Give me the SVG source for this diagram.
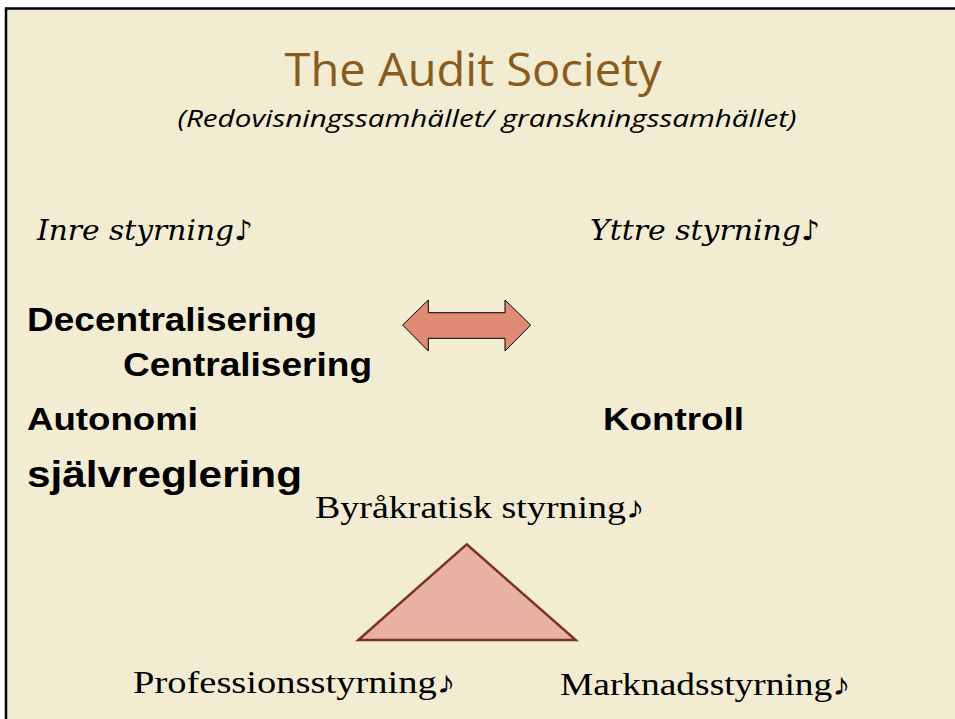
<svg xmlns="http://www.w3.org/2000/svg" width="955" height="719" viewBox="0 0 955 719">
<style>
.title{font-family:"Open Sans","Noto Sans",sans-serif;fill:#8B5A1E;font-size:46px}
.sub{font-family:"Open Sans","Noto Sans",sans-serif;font-style:italic;fill:#000;font-size:24px}
.it{font-family:"DejaVu Serif","Liberation Serif",serif;font-style:italic;fill:#000;font-size:28px}
.b{font-family:"Liberation Sans",Arial,sans-serif;font-weight:bold;fill:#000;font-size:34px}
.m{font-family:"Liberation Serif","DejaVu Serif",serif;fill:#000;font-size:31px}
</style>
<rect x="0" y="0" width="955" height="719" fill="#fff"/>
<rect x="5" y="8" width="950" height="711" fill="#F1ECD2"/>
<path d="M6 719 V8.5 H955" fill="none" stroke="#000" stroke-width="2.5"/>
<g id="title"><text class="title" x="473" y="86" text-anchor="middle" textLength="377" lengthAdjust="spacingAndGlyphs">The Audit Society</text></g>
<g id="subtitle"><text class="sub" x="487" y="127" text-anchor="middle" textLength="619" lengthAdjust="spacingAndGlyphs">(Redovisningssamhället/ granskningssamhället)</text></g>
<g id="inre"><text class="it" x="37" y="240" textLength="216" lengthAdjust="spacingAndGlyphs">Inre styrning♪</text></g>
<g id="yttre"><text class="it" x="590" y="240" textLength="230" lengthAdjust="spacingAndGlyphs">Yttre styrning♪</text></g>
<g id="decentralisering"><text class="b" x="27" y="331" textLength="290" lengthAdjust="spacingAndGlyphs">Decentralisering</text></g>
<g id="centralisering"><text class="b" x="123" y="376" textLength="249" lengthAdjust="spacingAndGlyphs">Centralisering</text></g>
<g id="autonomi"><text class="b" x="27" y="430" style="font-size:32px" textLength="171" lengthAdjust="spacingAndGlyphs">Autonomi</text></g>
<g id="kontroll"><text class="b" x="603" y="430" style="font-size:32px" textLength="141" lengthAdjust="spacingAndGlyphs">Kontroll</text></g>
<g id="sjalvreglering"><text class="b" x="27" y="487" style="font-size:37px" textLength="275" lengthAdjust="spacingAndGlyphs">självreglering</text></g>
<g id="byrakratisk"><text class="m" x="315" y="518" textLength="330" lengthAdjust="spacingAndGlyphs">Byråkratisk styrning♪</text></g>
<g id="profession"><text class="m" x="133" y="693" textLength="323" lengthAdjust="spacingAndGlyphs">Professionsstyrning♪</text></g>
<g id="marknad"><text class="m" x="560" y="695" textLength="291" lengthAdjust="spacingAndGlyphs">Marknadsstyrning♪</text></g>
<g id="connectors">
<path d="M402.7 325 L428.3 300 V312.7 H505 V300 L530.7 325 L505 351 V338.3 H428.3 V351 Z" fill="#E08B73" stroke="#000" stroke-width="1"/>
<path d="M466.7 544.3 L575.7 640 H358.3 Z" fill="#E9B0A4" stroke="#7B3421" stroke-width="2.5" stroke-linejoin="miter"/>
</g>
</svg>
